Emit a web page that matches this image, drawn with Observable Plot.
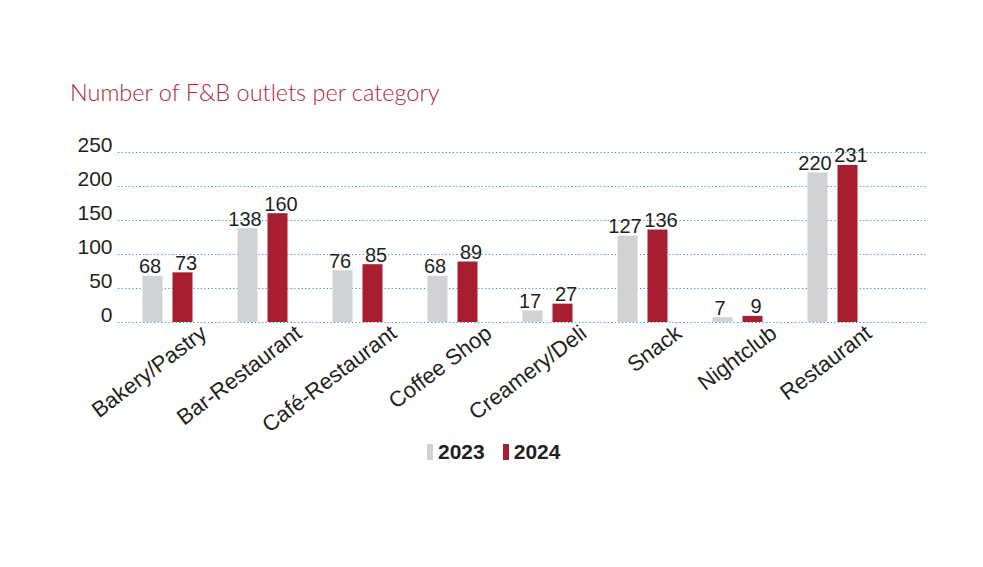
<!DOCTYPE html>
<html>
<head>
<meta charset="utf-8">
<script src="https://cdn.jsdelivr.net/npm/d3@7"></script>
<script src="https://cdn.jsdelivr.net/npm/@observablehq/plot@0.6"></script>
<style>
  html, body { margin: 0; padding: 0; background: #fff; }
  #wrap { position: relative; width: 983px; height: 567px; overflow: hidden; font-family: "Liberation Sans", Arial, sans-serif; }
  #title { position: absolute; left: 70px; top: 78px; font-family: "Lato", "Open Sans", sans-serif; font-weight: 300; font-size: 23.5px; color: #b0263a; white-space: nowrap; }
  #chart { position: absolute; left: 0; top: 115px; }
  #legend { position: absolute; left: 427px; top: 440px; display: flex; align-items: center; font-weight: bold; font-size: 21px; color: #231f20; }
  #legend .sw { display: inline-block; width: 6px; height: 16px; margin-right: 5px; }
  #legend .item { display: flex; align-items: center; margin-right: 18px; }
</style>
</head>
<body>
<div id="wrap">
  <div id="title">Number of F&amp;B outlets per category</div>
  <div id="chart"></div>
  <div id="legend"></div>
</div>
<script>
const categories = ["Bakery/Pastry", "Bar-Restaurant", "Café-Restaurant", "Coffee Shop", "Creamery/Deli", "Snack", "Nightclub", "Restaurant"];
const values2023 = [68, 138, 76, 68, 17, 127, 7, 220];
const values2024 = [73, 160, 85, 89, 27, 136, 9, 231];
const years = ["2023", "2024"];
const yTicks = [0, 50, 100, 150, 200, 250];
const colors = {"2023": "#d1d2d4", "2024": "#a91d31"};

const d23 = categories.map((c, i) => ({category: c, year: "2023", value: values2023[i]}));
const d24 = categories.map((c, i) => ({category: c, year: "2024", value: values2024[i]}));

const plot = Plot.plot({
  width: 983,
  height: 320,
  marginLeft: 118,
  marginRight: 55,
  marginTop: 37,
  marginBottom: 113,
  style: {fontFamily: "'Liberation Sans', Arial, sans-serif", color: "#231f20", background: "transparent", overflow: "visible"},
  x: {domain: categories, range: [120, 880], padding: 0},
  y: {domain: [0, 250]},
  marks: [
    Plot.ruleY(yTicks, {stroke: "#3d8cc4", strokeDasharray: "1.2,2.4", strokeWidth: 1.1}),
    Plot.barY(d23, {x: "category", y: "value", fill: colors["2023"], insetLeft: 22.5, insetRight: 52.5}),
    Plot.barY(d24, {x: "category", y: "value", fill: colors["2024"], insetLeft: 52.5, insetRight: 22.5}),
    Plot.text(d23, {x: "category", y: "value", text: d => String(d.value), dx: -18, dy: -3, lineAnchor: "bottom", fontSize: 20, fill: "#231f20"}),
    Plot.text(d24, {x: "category", y: "value", text: d => String(d.value), dx: 18, dy: -3, lineAnchor: "bottom", fontSize: 20, fill: "#231f20"}),
    Plot.axisY({ticks: yTicks, tickSize: 0, tickPadding: 6, dy: -7, fontSize: 21, label: null}),
    Plot.axisX({tickRotate: -37, tickSize: 0, tickPadding: 8, dx: 36, fontSize: 22, label: null})
  ]
});
document.getElementById("chart").appendChild(plot);

const legend = document.getElementById("legend");
years.forEach(y => {
  const item = document.createElement("span");
  item.className = "item";
  const sw = document.createElement("span");
  sw.className = "sw";
  sw.style.background = colors[y];
  item.appendChild(sw);
  item.appendChild(document.createTextNode(y));
  legend.appendChild(item);
});
</script>
</body>
</html>
